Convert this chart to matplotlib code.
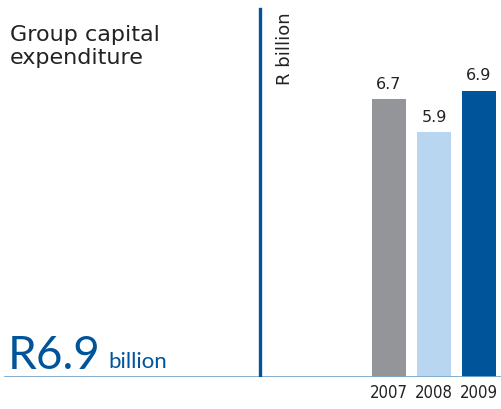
import matplotlib
matplotlib.use("Agg")
import matplotlib.pyplot as plt
from matplotlib import font_manager

years = ["2007", "2008", "2009"]
values = [6.7, 5.9, 6.9]
colors = ["#939598", "#b8d6ef", "#00559a"]

title = "Group capital\nexpenditure"
unit_label = "R billion"
headline = "R6.9"
headline_unit = "billion"

W, H = 501, 410
fig = plt.figure(figsize=(W / 100, H / 100), dpi=100)

base_px = 378          # baseline, pixels from top
top_val_px = 91.7      # top of tallest bar, pixels from top
ax_bottom = (H - base_px) / H
ax = fig.add_axes([0, ax_bottom, 1, 1 - ax_bottom])
ymax = max(values) * base_px / (base_px - top_val_px)
ax.set_ylim(0, ymax)

step = 45.0
c0 = 389.0
ax.set_xlim(-c0 / step, (W - c0) / step)
pos = list(range(len(years)))
ax.bar(pos, values, width=34 / step, color=colors, zorder=2)

# narrow face for the year labels if one is installed
has_condensed = any(f.name == "DejaVu Sans" and f.stretch == "condensed"
                    for f in font_manager.fontManager.ttflist)
year_size = 12 if has_condensed else 10.8

for x, v in zip(pos, values):
    ax.text(x, v + 0.2, f"{v}", ha="center", va="bottom", fontsize=11.5,
            color="#222222", family="DejaVu Sans")
    fig.text((c0 + x * step) / W, (H - 393) / H, years[x], ha="center",
             va="center", fontsize=year_size, color="#222222",
             family="DejaVu Sans", stretch="condensed")

# baseline and divider
ax.axhline(0, xmin=5 / W, xmax=1, color="#7ba7c9", lw=2, zorder=3)
ax.axvline((260 - c0) / step, ymin=0, ymax=(base_px - 10) / base_px,
           color="#00559a", lw=2.4, zorder=3)

ax.axis("off")

fig.text(10 / W, 1 - 25 / H, title, ha="left", va="top", fontsize=16,
         color="#222222", family="DejaVu Sans", linespacing=1.2)
fig.text(285 / W, 1 - 12 / H, unit_label, ha="center", va="top",
         rotation=90, fontsize=13, color="#222222", family="DejaVu Sans")
fig.text(8 / W, 1 - 369 / H, headline, ha="left", va="baseline",
         fontsize=33, color="#00559a", family="Lato")
fig.text(108 / W, 1 - 368 / H, headline_unit, ha="left", va="baseline",
         fontsize=16, color="#00559a", family="Lato")

fig.savefig("out.png", dpi=100)
